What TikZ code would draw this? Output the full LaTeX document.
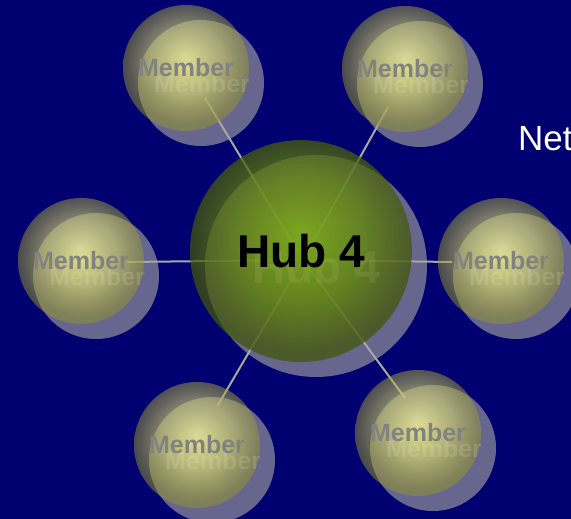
\documentclass[tikz,border=0pt]{standalone}
\usepackage{fontspec}
\setmainfont{Liberation Sans}
\usetikzlibrary{fadings}
\definecolor{bg}{RGB}{0,0,112}
\definecolor{shadowc}{RGB}{102,102,142}
\definecolor{linkc}{RGB}{168,168,160}
\definecolor{mA}{RGB}{232,232,152}
\definecolor{mB}{RGB}{200,200,112}
\definecolor{mC}{RGB}{150,150,45}
\definecolor{hA}{RGB}{128,172,24}
\definecolor{hB}{RGB}{100,136,14}
\definecolor{hC}{RGB}{66,86,8}
\definecolor{memtext}{RGB}{130,130,128}
\definecolor{memglow}{RGB}{240,240,205}
\definecolor{hubglow}{RGB}{205,205,140}
\pgfdeclareradialshading{membershade}{\pgfpoint{0bp}{5bp}}{color(0bp)=(mA); color(14bp)=(mB); color(25bp)=(mC); color(50bp)=(mC)}
\pgfdeclareradialshading{hubshade}{\pgfpoint{0bp}{4bp}}{color(0bp)=(hA); color(14bp)=(hB); color(25bp)=(hC); color(50bp)=(hC)}
\tikzfading[name=memberfade, inner color=transparent!3, outer color=transparent!50]
\tikzfading[name=hubfade, inner color=transparent!5, outer color=transparent!27]
\tikzset{
  shadowdisc/.style={fill=shadowc},
  memberdisc/.style={shading=membershade, path fading=memberfade},
  hubdisc/.style={shading=hubshade, path fading=hubfade},
  link/.style={draw=linkc, line width=2pt},
  memtxt/.style={font=\bfseries\fontsize{25}{28}\selectfont, text=memtext, inner sep=0pt},
  memshtxt/.style={font=\bfseries\fontsize{25}{28}\selectfont, text=memglow, text opacity=0.16, inner sep=0pt},
  hubtxt/.style={font=\bfseries\fontsize{46}{50}\selectfont, text=black, inner sep=0pt},
  hubshtxt/.style={font=\bfseries\fontsize{46}{50}\selectfont, text=hubglow, text opacity=0.13, inner sep=0pt},
  nettxt/.style={font=\fontsize{35}{40}\selectfont, text=white, inner sep=0pt}
}
\begin{document}
\begin{tikzpicture}[x=1pt,y=-1pt]
\fill[bg] (0,0) rectangle (571,519);
\useasboundingbox (0,0) rectangle (571,519);
% centres
\coordinate (hub) at (301,251);
\coordinate (hubc) at (303,260);
\coordinate (m1) at (186,68);
\coordinate (m2) at (405,69);
\coordinate (m3) at (81,261);
\coordinate (m4) at (501,261);
\coordinate (m5) at (197,445);
\coordinate (m6) at (418,433);
% connector ends
\coordinate (e1) at (205,98);
\coordinate (e2) at (388,107);
\coordinate (e3) at (127,262);
\coordinate (e4) at (452,262);
\coordinate (e5) at (218,405);
\coordinate (e6) at (405,398);
% shadows
\fill[shadowdisc] ([shift={(15,15)}]hub) circle (111);
\foreach \m in {m1,m2,m3,m4,m5,m6}{
  \fill[shadowdisc] ([shift={(15,15)}]\m) circle (63);
}
% connectors
\foreach \e in {e1,e2,e3,e4,e5,e6}{
  \draw[link] (hubc) -- (\e);
}
% main discs
\shade[hubdisc] (hub) circle (111);
\foreach \m in {m1,m2,m3,m4,m5,m6}{
  \shade[memberdisc] (\m) circle (63);
}
% text shadows and texts
\node[hubshtxt] (hubsh) at ([shift={(15,16)}]hub) {Hub 4};
\node[hubtxt] (hubt) at (hub) {Hub 4};
\foreach \m in {m1,m2,m3,m4,m5,m6}{
  \node[memshtxt] (\m sh) at ([shift={(16,16)}]\m) {Member};
  \node[memtxt] (\m t) at (\m) {Member};
}
\node[nettxt, anchor=base west] (net) at (518,150) {Net};
\end{tikzpicture}
\end{document}
